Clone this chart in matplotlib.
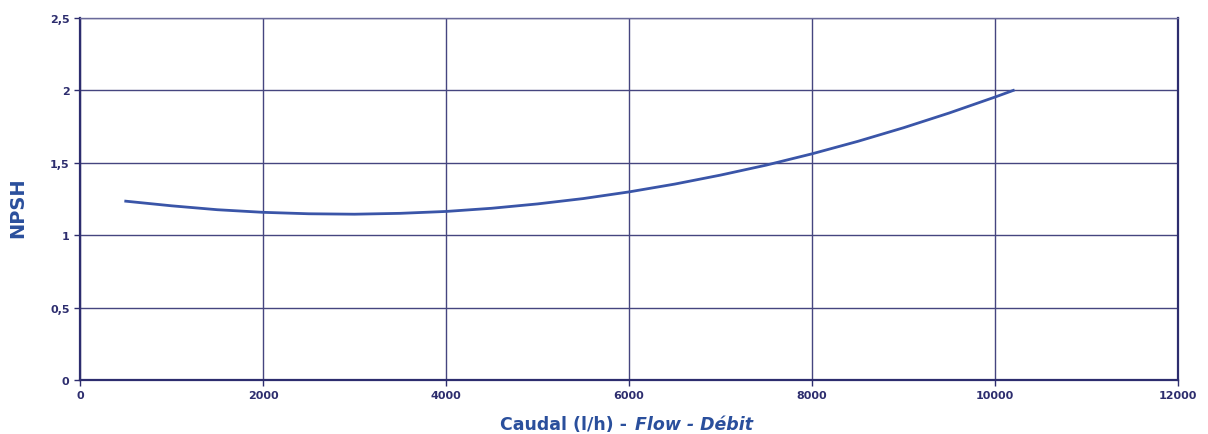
import matplotlib.pyplot as plt

caudal = [500, 1000, 1500, 2000, 2500, 3000, 3500, 4000, 4500, 5000, 5500,
          6000, 6500, 7000, 7500, 8000, 8500, 9000, 9500, 10000, 10200]
npsh = [1.235, 1.203, 1.176, 1.158, 1.148, 1.145, 1.151, 1.164, 1.186, 1.216, 1.253,
        1.299, 1.353, 1.415, 1.484, 1.562, 1.648, 1.742, 1.844, 1.954, 2.0]

xticks = [0, 2000, 4000, 6000, 8000, 10000, 12000]
yticks = [0, 0.5, 1, 1.5, 2, 2.5]
ylabels = ["0", "0,5", "1", "1,5", "2", "2,5"]

grid_col = "#45457f"
navy = "#2d2d6e"
blue = "#2a4f9c"

fig = plt.figure(figsize=(12.08, 4.35), dpi=100)
ax = fig.add_axes([80/1208, 1 - 381/435, 1098/1208, 362/435])
ax.plot(caudal, npsh, color="#3a55a8", lw=2.0, zorder=3)

ax.set_xlim(0, 12000)
ax.set_ylim(0, 2.5)
ax.set_xticks(xticks)
ax.set_yticks(yticks)
ax.set_yticklabels(ylabels)
ax.grid(True, color=grid_col, lw=1.0)
for s in ax.spines.values():
    s.set_color(navy)
    s.set_linewidth(1.6)
ax.spines["top"].set_color("#6a6a9a")
ax.spines["top"].set_linewidth(1.0)
ax.tick_params(colors=navy, labelcolor=navy, length=4, width=1, labelsize=8)
for lab in ax.get_xticklabels() + ax.get_yticklabels():
    lab.set_fontweight("bold")

fig.text(633/1208, 0.023, "Caudal (l/h) - ", ha="right", va="center",
         fontsize=12.5, fontweight="bold", color=blue)
fig.text(635/1208, 0.023, "Flow - Débit", ha="left", va="center",
         fontsize=12.5, fontstyle="italic", fontweight="bold", color=blue)
fig.text(18/1208, 1 - 208/435, "NPSH", rotation=90, ha="center", va="center",
         fontsize=14, fontweight="bold", color=blue)

plt.savefig("out.png")
